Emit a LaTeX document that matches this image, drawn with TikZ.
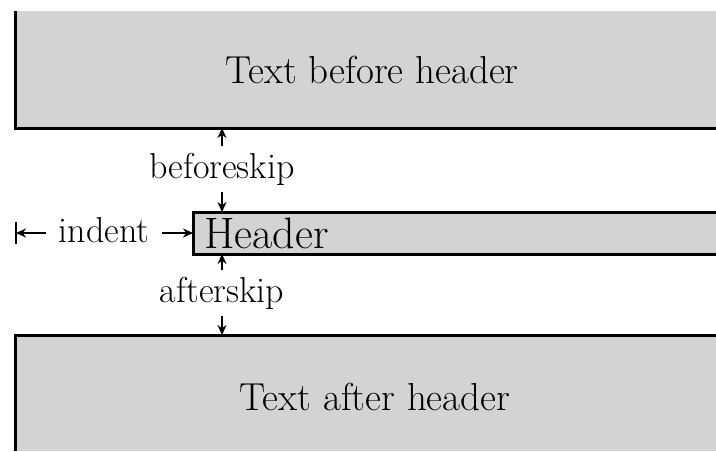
\documentclass[tikz,border=0pt]{standalone}
\usepackage{xcolor}
\usepackage{tikz}
\usetikzlibrary{arrows.meta}
\definecolor{boxgray}{RGB}{211,211,211}

\begin{document}
\begin{tikzpicture}[x=0.5pt,y=-0.5pt,
  edge/.style={line width=1.5pt,line join=miter},
  big/.style={font=\fontsize{19.5}{23}\selectfont,inner sep=0pt},
  hd/.style={font=\fontsize{22}{26}\selectfont,inner sep=0pt},
  lbl/.style={font=\fontsize{18}{21}\selectfont,inner sep=3pt},
  arr/.style={-{Stealth[length=5pt,width=4.5pt]},line width=0.8pt}]
\useasboundingbox (0,0) rectangle (716,451);
% the three boxes, cut off at the right
\fill[boxgray] (15,11) rectangle (716,128);
\draw[edge] (15,11) |- (716,128);
\fill[boxgray] (193,212) rectangle (716,254);
\draw[edge] (716,212) -- (193,212) -- (193,254) -- (716,254);
\fill[boxgray] (15,335) rectangle (716,451);
\draw[edge] (15,451) |- (716,335);
\node[big,anchor=base] (before) at (372,83) {Text before header};
\node[hd,anchor=base west] (head) at (204,248) {Header};
\node[big,anchor=base] (after) at (375,410) {Text after header};
\coordinate (topedge) at (222,128);
\coordinate (hdtop) at (222,212);
\coordinate (hdbot) at (222,254);
\coordinate (hdleft) at (193,233);
\coordinate (botedge) at (222,335);
\coordinate (margin) at (16,233);
\node[lbl] (bskip) at (222,169) {beforeskip};
\node[lbl] (askip) at (222,293) {afterskip};
\node[lbl,inner xsep=6pt] (ind) at (104,230) {indent};
\draw[arr] (bskip) -- (topedge);
\draw[arr] (bskip) -- (hdtop);
\draw[arr] (askip) -- (hdbot);
\draw[arr] (askip) -- (botedge);
\draw[arr] (ind.east |- hdleft) -- (hdleft);
\draw[arr] (ind.west |- margin) -- (margin);
\draw[line width=0.8pt] (16,222) -- (16,244);
\end{tikzpicture}
\end{document}
